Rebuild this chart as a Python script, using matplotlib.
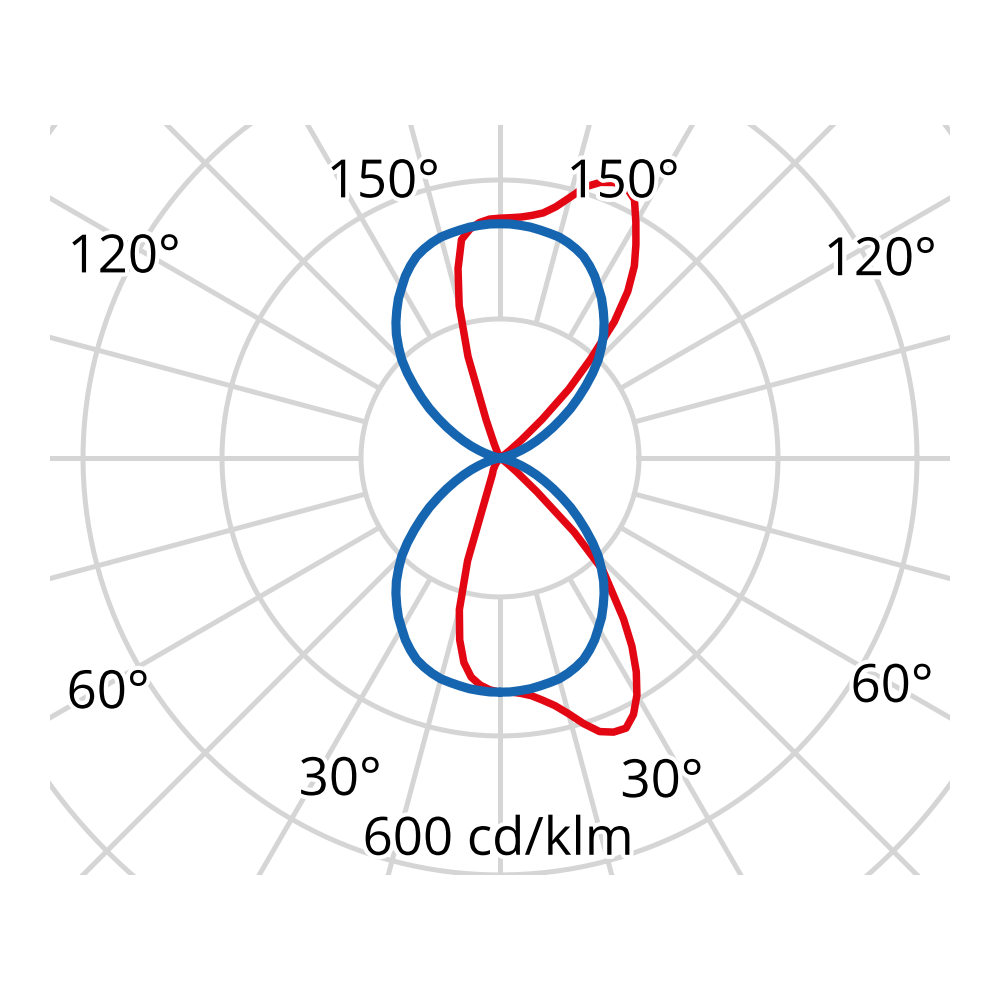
import numpy as np
import matplotlib
matplotlib.use("Agg")
import matplotlib.pyplot as plt
import matplotlib.patheffects as pe

# Luminous intensity distribution, cd/klm, gamma 0..180 in 2.5 deg steps
gamma = np.arange(0, 180.1, 2.5)

# C0 plane (right half) - red
c0_lower = [337, 337, 340, 345, 354, 365, 381, 401, 419, 427, 429, 416, 394, 365,
            331, 292, 250, 219, 151, 72, 32, 14, 6] + [0] * 14
c0_upper = [0] * 13 + [6, 17, 40, 82, 140, 193, 256, 302, 337, 364, 391, 419, 430,
                       429, 422, 409, 388, 370, 358, 352, 348, 346, 345]

# C180 plane (left half) - red
c180_lower = [337, 334, 328, 318, 299, 268, 226, 155, 60, 36, 26, 22, 19, 14,
              12, 7, 4, 1] + [0] * 19
c180_upper = [0] * 24 + [3, 9, 22, 58, 153, 227, 279, 319, 332, 340, 344, 345]

# C90 / C270 planes - blue, gamma 0..90 (upper hemisphere is the same)
c90_lower = [337, 337, 336, 335, 333, 331, 329, 325, 320, 314, 305, 295, 283, 272,
             259, 246, 232, 216, 200, 181, 161, 142, 124, 105, 88, 72, 58, 45,
             33, 23, 14, 9, 4, 1, 0, 0, 0]

c0 = c0_lower + c0_upper
c180 = c180_lower + c180_upper
c90 = c90_lower + c90_lower[-2::-1]

grid_radii = [200, 400, 600, 800]
spoke_angles = np.arange(0, 360, 15)

angle_labels = ["150°", "150°", "120°", "120°", "60°", "60°", "30°", "30°"]
label_xy = [(-168, 375), (177, 375), (-541, 267), (547, 263),
            (-564, -360), (564, -351), (-230, -485), (233, -488)]
scale_label = "600 cd/klm"

GRID = "#d5d5d5"
RED = "#e30613"
BLUE = "#1565b0"

plt.rcParams['font.family'] = ['Open Sans', 'DejaVu Sans']

fig = plt.figure(figsize=(10, 10), dpi=100)
ax = fig.add_axes([0.05, 0.125, 0.9, 0.75])
ax.set_xlim(-647.5, 647.5)
ax.set_ylim(-600, 479)
ax.set_aspect('equal')
ax.axis('off')

# grid circles
t = np.linspace(0, 2 * np.pi, 400)
for r in grid_radii:
    ax.plot(r * np.cos(t), r * np.sin(t), color=GRID, lw=3.6, zorder=1)

# spokes start at the inner circle
for a in spoke_angles:
    rad = np.deg2rad(a)
    ax.plot([200 * np.sin(rad), 1000 * np.sin(rad)],
            [-200 * np.cos(rad), -1000 * np.cos(rad)],
            color=GRID, lw=3.6, zorder=1, solid_capstyle='butt')


def polar_xy(right, left):
    g = np.deg2rad(gamma)
    r1 = np.array(right, dtype=float)
    r2 = np.array(left, dtype=float)
    x = np.concatenate([r1 * np.sin(g), -r2[::-1] * np.sin(g[::-1])])
    y = np.concatenate([-r1 * np.cos(g), -r2[::-1] * np.cos(g[::-1])])
    return x, y


x_red, y_red = polar_xy(c0, c180)
ax.plot(x_red, y_red, color=RED, lw=5.4, zorder=3,
        solid_joinstyle='round', solid_capstyle='round')

x_blue, y_blue = polar_xy(c90, c90)
ax.plot(x_blue, y_blue, color=BLUE, lw=6.6, zorder=4,
        solid_joinstyle='round', solid_capstyle='round')

halo = [pe.withStroke(linewidth=6, foreground='white')]
for txt, (x, y) in zip(angle_labels, label_xy):
    ax.text(x, y, txt, fontsize=38, ha='center', va='baseline', color='black',
            path_effects=halo, zorder=5, clip_on=False)

ax.text(-3, -571, scale_label, fontsize=38, ha='center', va='baseline', color='black',
        path_effects=halo, zorder=5, clip_on=False)

fig.savefig("out.png", dpi=100, facecolor='white')
